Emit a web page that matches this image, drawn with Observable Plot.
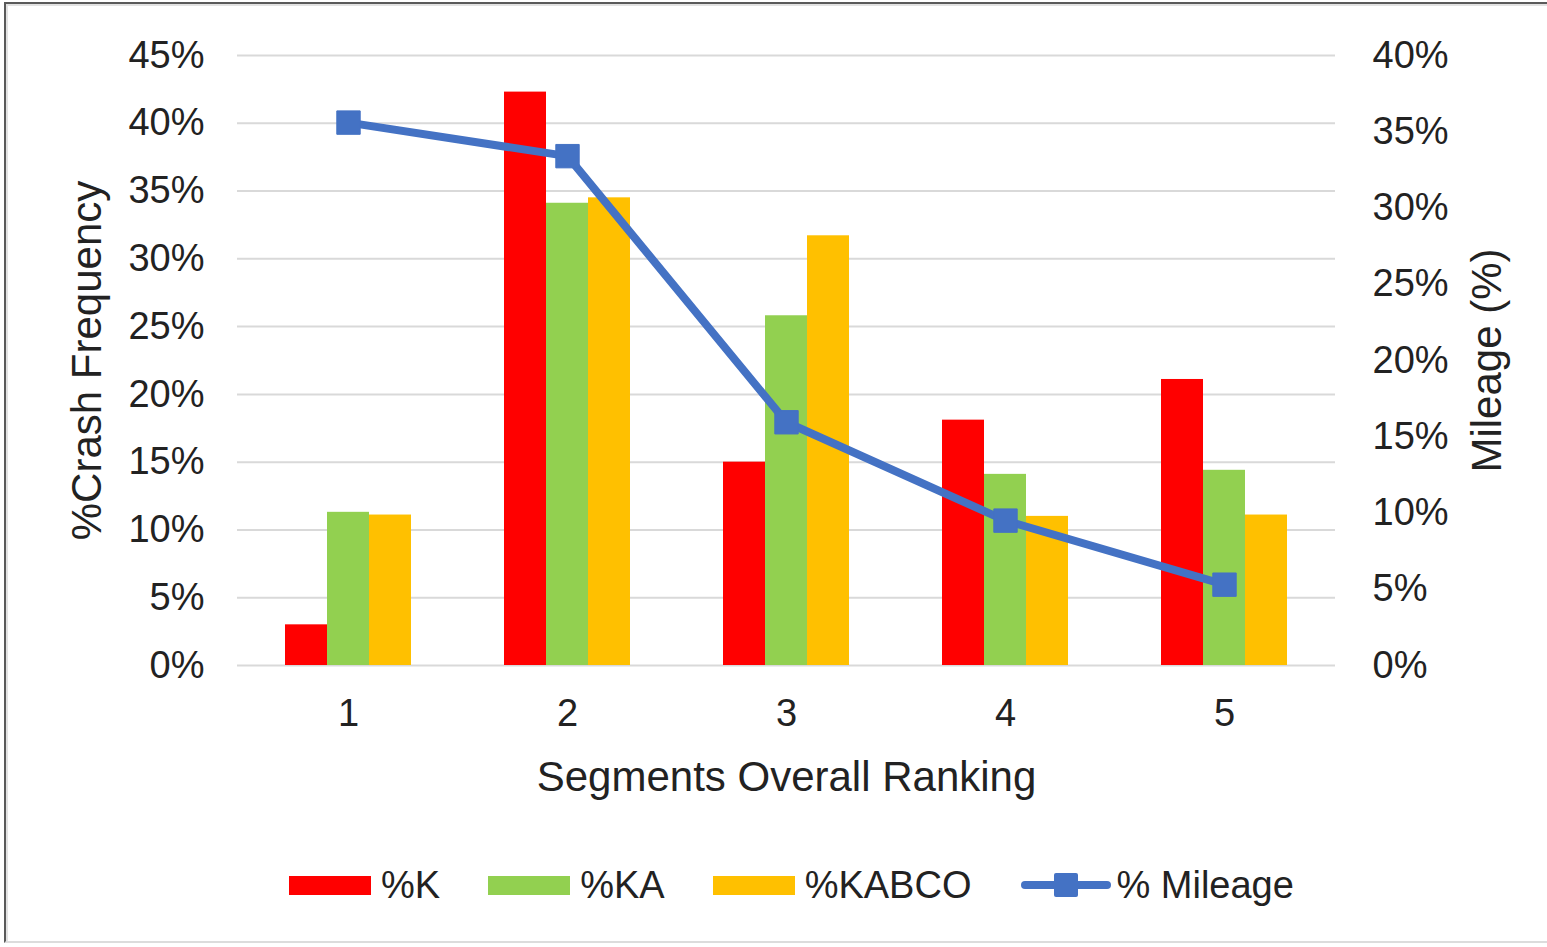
<!DOCTYPE html>
<html>
<head>
<meta charset="utf-8">
<script src="https://cdn.jsdelivr.net/npm/d3@7"></script>
<script src="https://cdn.jsdelivr.net/npm/@observablehq/plot@0.6"></script>
<style>
  html, body { margin: 0; padding: 0; background: #fff; }
  body { width: 1547px; height: 947px; position: relative; overflow: hidden;
         font-family: "Liberation Sans", Arial, sans-serif; color: #222; }
  #frame { position: absolute; left: 4px; top: 2px; width: 1560px; height: 941px;
           border-top: 2px solid #5a5a5a; border-left: 2px solid #5a5a5a; border-bottom: 2px solid #dcdcdc;
           box-shadow: inset 2px 2px 0 #e2e2e2; box-sizing: border-box; pointer-events: none; }
  #chart { position: absolute; left: 0; top: 0; }
  #legend { position: absolute; left: 289px; top: 862px; height: 46px; display: flex; align-items: center;
            font-size: 38px; line-height: 46px; white-space: nowrap; }
  .item { display: flex; align-items: center; margin-right: 48px; }
  .sw { width: 82px; height: 19px; margin-right: 10px; }
</style>
</head>
<body>
<div id="chart"></div>
<div id="legend"></div>
<div id="frame"></div>
<script>
// ---- data ----
const categories = ["1", "2", "3", "4", "5"];
const pctK      = [3.0, 42.3, 15.0, 18.1, 21.1];
const pctKA     = [11.3, 34.1, 25.8, 14.1, 14.4];
const pctKABCO  = [11.1, 34.5, 31.7, 11.0, 11.1];
const pctMileage = [35.6, 33.4, 15.95, 9.5, 5.3];
const leftTicks  = [0, 5, 10, 15, 20, 25, 30, 35, 40, 45];
const rightTicks = [0, 5, 10, 15, 20, 25, 30, 35, 40];
const seriesNames = ["%K", "%KA", "%KABCO", "% Mileage"];
const seriesColors = ["#FF0000", "#92D050", "#FFC000", "#4472C4"];

const leftMax = 45, rightMax = 40;
const toLeft = v => v * leftMax / rightMax;

const rows = categories.map((c, i) => ({
  cat: c, K: pctK[i], KA: pctKA[i], KABCO: pctKABCO[i], M: toLeft(pctMileage[i])
}));

const chart = Plot.plot({
  width: 1547,
  height: 820,
  marginTop: 55,
  marginBottom: 155,
  marginLeft: 237,
  marginRight: 212,
  style: { fontFamily: "'Liberation Sans', Arial, sans-serif", fontSize: "38px", color: "#222", background: "transparent" },
  x: { type: "band", domain: categories, paddingInner: 0.809, paddingOuter: 0.4045, label: null },
  y: { domain: [0, leftMax], label: null },
  marks: [
    Plot.ruleY(leftTicks, { stroke: "#d9d9d9", strokeWidth: 2 }),
    Plot.barY(rows, { x: "cat", y: "K", fill: seriesColors[0], dx: -42 }),
    Plot.barY(rows, { x: "cat", y: "KA", fill: seriesColors[1] }),
    Plot.barY(rows, { x: "cat", y: "KABCO", fill: seriesColors[2], dx: 42 }),
    Plot.line(rows, { x: "cat", y: "M", stroke: seriesColors[3], strokeWidth: 8, strokeLinejoin: "round" }),
    Plot.dot(rows, { x: "cat", y: "M", symbol: "square", r: 13.2, fill: seriesColors[3], stroke: seriesColors[3], strokeWidth: 1, strokeLinejoin: "round" }),
    Plot.axisY(leftTicks, { anchor: "left", tickSize: 0, tickPadding: 33, tickFormat: d => d + "%", label: null, fontSize: 38 }),
    Plot.axisY(rightTicks.map(toLeft), { anchor: "right", tickSize: 0, tickPadding: 37, tickFormat: d => Math.round(d * rightMax / leftMax) + "%", label: null, fontSize: 38 }),
    Plot.axisX({ anchor: "bottom", tickSize: 0, tickPadding: 34, label: null, fontSize: 38 }),
    Plot.text(["%Crash Frequency"], { frameAnchor: "left", textAnchor: "middle", dx: -166, rotate: -90, lineAnchor: "top", fontSize: 42, fill: "#222" }),
    Plot.text(["Mileage (%)"], { frameAnchor: "right", textAnchor: "middle", dx: 165, rotate: -90, lineAnchor: "bottom", fontSize: 42, fill: "#222" }),
    Plot.text(["Segments Overall Ranking"], { frameAnchor: "bottom", dy: 125, lineAnchor: "bottom", fontSize: 42, fill: "#222" })
  ]
});
document.getElementById("chart").appendChild(chart);

// ---- legend (HTML below the SVG) ----
const legend = document.getElementById("legend");
seriesNames.forEach((name, i) => {
  const item = document.createElement("div");
  item.className = "item";
  if (i < 3) {
    const sw = document.createElement("div");
    sw.className = "sw";
    sw.style.background = seriesColors[i];
    item.appendChild(sw);
  } else {
    const ns = "http://www.w3.org/2000/svg";
    const svg = document.createElementNS(ns, "svg");
    svg.setAttribute("width", "92");
    svg.setAttribute("height", "30");
    svg.style.marginRight = "5px";
    const ln = document.createElementNS(ns, "line");
    ln.setAttribute("x1", "6"); ln.setAttribute("x2", "88");
    ln.setAttribute("y1", "15"); ln.setAttribute("y2", "15");
    ln.setAttribute("stroke", seriesColors[i]); ln.setAttribute("stroke-width", "8");
    ln.setAttribute("stroke-linecap", "round");
    const sq = document.createElementNS(ns, "rect");
    sq.setAttribute("x", "35"); sq.setAttribute("y", "3");
    sq.setAttribute("width", "24"); sq.setAttribute("height", "24");
    sq.setAttribute("rx", "2");
    sq.setAttribute("fill", seriesColors[i]);
    svg.appendChild(ln); svg.appendChild(sq);
    item.appendChild(svg);
  }
  const label = document.createElement("span");
  label.textContent = name;
  item.appendChild(label);
  legend.appendChild(item);
});
</script>
</body>
</html>
